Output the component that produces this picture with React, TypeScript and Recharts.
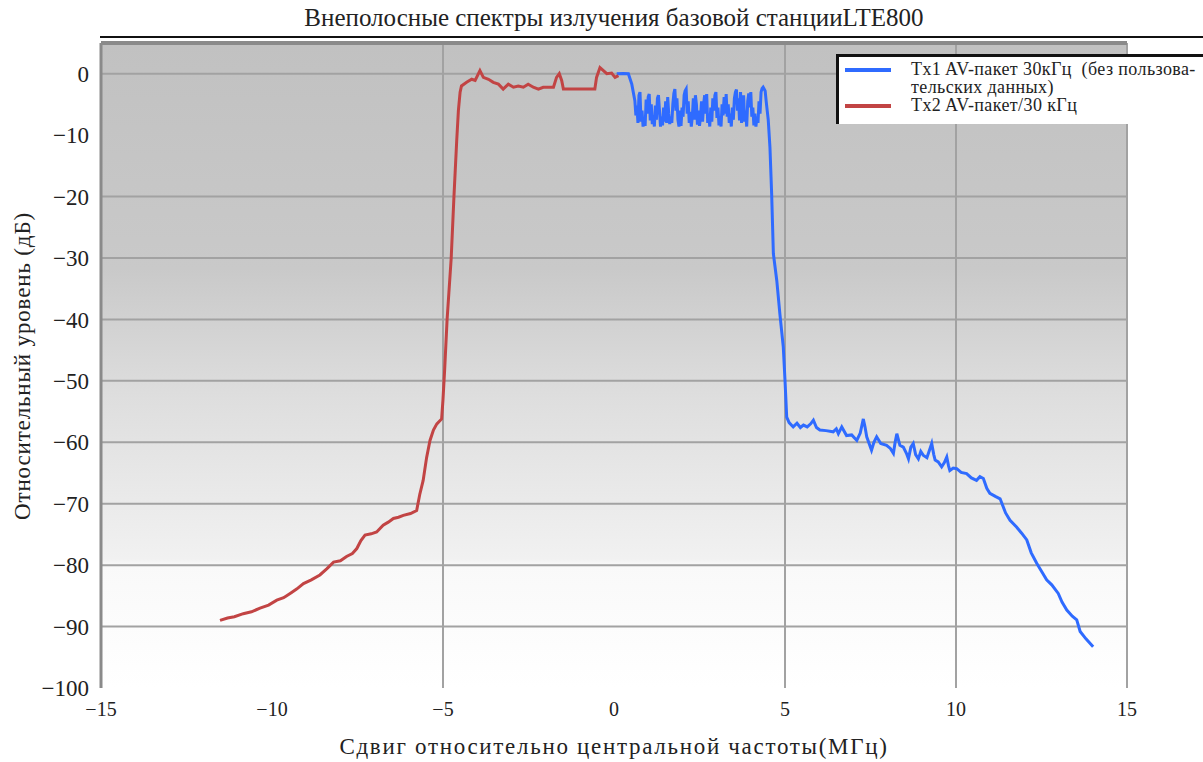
import {
  CartesianGrid,
  Line,
  LineChart,
  ReferenceLine,
  XAxis,
  YAxis,
} from "recharts"

const xTicks = [-15, -10, -5, 0, 5, 10, 15]
const yTicks = [0, -10, -20, -30, -40, -50, -60, -70, -80, -90, -100]
const gridX = [-5, 5, 10, 15]
const gridY = [0, -20, -30, -40, -50, -60, -70, -80, -90]

const tx1Name = "Tx1 AV-пакет 30кГц  (без пользовательских данных)"
const tx2Name = "Tx2 AV-пакет/30 кГц"

// [сдвиг МГц, уровень дБ]
const tx2Points: [number, number][] = [
  [-11.52, -89.0], [-11.3, -88.6], [-11.1, -88.4], [-10.84, -87.9], [-10.6, -87.6],
  [-10.35, -87.0], [-10.1, -86.5], [-9.86, -85.7], [-9.66, -85.3], [-9.47, -84.6],
  [-9.28, -83.9], [-9.08, -83.0], [-8.85, -82.4], [-8.6, -81.6], [-8.4, -80.6],
  [-8.2, -79.5], [-8.0, -79.3], [-7.82, -78.6], [-7.65, -78.1], [-7.52, -77.3],
  [-7.4, -76.0], [-7.28, -75.1], [-7.1, -74.9], [-6.94, -74.6], [-6.75, -73.5],
  [-6.6, -73.0], [-6.45, -72.4], [-6.3, -72.2], [-6.16, -71.9], [-5.95, -71.6],
  [-5.77, -71.1], [-5.68, -68.5], [-5.58, -66.2], [-5.48, -62.5], [-5.38, -59.7],
  [-5.28, -58.0], [-5.18, -57.0], [-5.04, -56.2], [-5.0, -53.0], [-4.95, -48.0],
  [-4.88, -40.0], [-4.76, -30.0], [-4.68, -20.0], [-4.6, -11.0], [-4.55, -6.0],
  [-4.5, -3.0], [-4.46, -2.0], [-4.31, -1.4], [-4.16, -0.9], [-4.06, -1.1],
  [-3.92, 0.5], [-3.82, -0.6], [-3.67, -0.9], [-3.53, -1.4], [-3.38, -1.7],
  [-3.24, -2.5], [-3.09, -1.7], [-2.94, -2.2], [-2.8, -2.0], [-2.65, -2.2],
  [-2.51, -1.7], [-2.36, -2.2], [-2.21, -2.5], [-2.07, -2.2], [-1.77, -2.2],
  [-1.68, -0.6], [-1.6, 0.0], [-1.53, -1.1], [-1.48, -2.5], [-0.99, -2.5],
  [-0.56, -2.5], [-0.51, -0.6], [-0.41, 1.0], [-0.31, 0.5], [-0.21, 0.0],
  [-0.07, 0.1], [0.03, -0.6], [0.13, -0.3],
]

const tx1Points: [number, number][] = [
  [0.08, 0.0], [0.27, 0.05], [0.42, 0.0], [0.52, -1.7], [0.61, -4.4],
  [0.64, -6.8], [0.67, -5.2], [0.7, -8.0], [0.73, -3.5], [0.76, -3.0],
  [0.79, -7.8], [0.82, -6.0], [0.85, -8.6], [0.88, -7.2], [0.91, -8.5],
  [0.94, -4.2], [0.97, -6.5], [1.0, -3.8], [1.03, -3.3], [1.06, -7.6],
  [1.09, -5.0], [1.12, -8.2], [1.15, -6.8], [1.18, -8.6], [1.21, -5.2],
  [1.24, -7.5], [1.27, -4.0], [1.3, -3.5], [1.33, -6.0], [1.36, -8.6],
  [1.39, -7.0], [1.42, -8.4], [1.45, -5.5], [1.48, -7.8], [1.51, -4.5],
  [1.54, -8.0], [1.57, -3.8], [1.6, -6.5], [1.63, -8.2], [1.66, -7.0],
  [1.69, -8.0], [1.72, -5.0], [1.75, -3.2], [1.78, -2.5], [1.81, -6.0],
  [1.84, -4.0], [1.87, -7.5], [1.9, -8.6], [1.93, -6.0], [1.96, -8.5],
  [1.99, -5.5], [2.02, -7.0], [2.05, -3.5], [2.08, -2.8], [2.11, -2.5],
  [2.14, -6.5], [2.17, -4.5], [2.2, -8.0], [2.23, -6.2], [2.26, -8.6],
  [2.29, -7.0], [2.32, -4.0], [2.35, -7.5], [2.38, -3.5], [2.41, -5.0],
  [2.44, -8.3], [2.47, -6.0], [2.5, -8.5], [2.53, -7.0], [2.56, -4.5],
  [2.59, -7.8], [2.62, -5.0], [2.65, -3.5], [2.68, -6.5], [2.71, -3.3],
  [2.74, -8.0], [2.77, -6.5], [2.8, -8.6], [2.83, -5.5], [2.86, -7.8],
  [2.89, -4.0], [2.92, -6.0], [2.95, -3.5], [2.98, -3.0], [3.01, -7.2],
  [3.04, -5.5], [3.07, -8.4], [3.1, -7.0], [3.13, -8.6], [3.16, -5.0],
  [3.19, -6.8], [3.22, -3.8], [3.25, -6.5], [3.28, -3.3], [3.31, -7.0],
  [3.34, -5.0], [3.37, -8.0], [3.4, -6.5], [3.43, -8.6], [3.46, -5.5],
  [3.49, -7.5], [3.52, -4.0], [3.55, -3.0], [3.58, -2.6], [3.61, -6.0],
  [3.64, -4.0], [3.67, -7.6], [3.7, -3.0], [3.73, -8.0], [3.76, -5.0],
  [3.79, -3.5], [3.82, -7.8], [3.85, -6.0], [3.88, -8.6], [3.91, -4.5],
  [3.94, -3.2], [3.97, -5.5], [4.0, -3.0], [4.03, -7.0], [4.06, -5.5],
  [4.09, -8.4], [4.12, -6.5], [4.15, -8.6], [4.18, -7.0], [4.21, -8.0],
  [4.24, -4.5], [4.27, -6.5], [4.3, -3.0], [4.33, -2.4], [4.36, -2.2],
  [4.39, -2.5], [4.42, -2.8], [4.45, -4.5], [4.48, -6.0], [4.51, -7.5],
  [4.56, -12.0], [4.61, -19.6], [4.66, -29.3], [4.76, -33.7], [4.85, -39.1],
  [4.95, -44.5], [5.0, -49.9], [5.05, -55.9], [5.12, -56.8], [5.24, -57.5],
  [5.35, -56.9], [5.45, -57.6], [5.54, -57.2], [5.65, -57.5], [5.75, -57.0],
  [5.83, -56.4], [5.92, -57.6], [6.02, -58.0], [6.2, -58.1], [6.41, -58.3],
  [6.5, -57.8], [6.56, -58.6], [6.66, -57.5], [6.8, -58.9], [6.95, -58.8],
  [7.1, -59.7], [7.2, -58.5], [7.29, -56.2], [7.34, -57.5], [7.39, -59.1],
  [7.53, -61.3], [7.6, -60.0], [7.68, -59.1], [7.8, -60.2], [7.97, -60.5],
  [8.08, -61.0], [8.17, -61.8], [8.22, -60.0], [8.27, -58.6], [8.36, -60.5],
  [8.46, -60.8], [8.55, -61.8], [8.61, -62.7], [8.68, -60.8], [8.75, -60.2],
  [8.82, -62.0], [8.9, -62.7], [8.97, -61.5], [9.04, -62.1], [9.15, -62.5],
  [9.29, -60.2], [9.35, -62.0], [9.39, -62.9], [9.48, -63.2], [9.58, -64.0],
  [9.66, -63.3], [9.73, -62.4], [9.78, -63.8], [9.82, -64.6], [9.92, -64.2],
  [10.02, -64.3], [10.15, -64.9], [10.31, -65.1], [10.45, -65.8], [10.6, -66.2],
  [10.7, -65.6], [10.8, -65.9], [10.9, -67.5], [10.99, -68.3], [11.15, -68.8],
  [11.29, -69.2], [11.45, -71.5], [11.58, -72.7], [11.77, -73.8], [11.92, -74.8],
  [12.07, -75.9], [12.2, -78.0], [12.36, -79.7], [12.5, -81.0], [12.65, -82.4],
  [12.8, -83.2], [12.99, -84.6], [13.1, -86.0], [13.24, -87.3], [13.4, -88.3],
  [13.53, -88.9], [13.63, -90.8], [13.8, -92.0], [14.01, -93.3],
]

const tx1Data = tx1Points.map(([f, v]) => ({ f, v }))
const tx2Data = tx2Points.map(([f, v]) => ({ f, v }))

const tx1Color = "#2f6bff"
const tx2Color = "#c24444"
const serif = '"Times New Roman", "Liberation Serif", serif'
const minus = (v: number) => String(v).replace("-", "\u2212")

function LegendBox() {
  const swatch = (c: string) => (
    <span
      style={{
        flex: "none",
        width: 46,
        height: 4,
        background: c,
        margin: "8px 0 0 6px",
      }}
    />
  )
  return (
    <div
      style={{
        position: "absolute",
        left: 836,
        top: 54,
        width: 370,
        height: 70,
        background: "#fff",
        borderLeft: "3px solid #111",
        borderTop: "3px solid #111",
        fontSize: 18,
        letterSpacing: 0.4,
        color: "#222",
        lineHeight: "18px",
        boxSizing: "border-box",
        paddingTop: 3,
      }}
    >
      <div style={{ display: "flex" }}>
        {swatch(tx1Color)}
        <span style={{ marginLeft: 20 }}>
          Tx1 AV-пакет 30кГц&nbsp; (без пользова-
          <br />
          тельских данных)
        </span>
      </div>
      <div style={{ display: "flex" }}>
        {swatch(tx2Color)}
        <span style={{ marginLeft: 20 }}>{tx2Name}</span>
      </div>
    </div>
  )
}

export default function App() {
  return (
    <div
      style={{
        position: "absolute",
        left: 0,
        top: 0,
        width: 1203,
        height: 762,
        background: "#fff",
        overflow: "hidden",
        fontFamily: serif,
      }}
    >
      <div
        style={{
          position: "absolute",
          top: 4,
          left: 0,
          width: 1228,
          textAlign: "center",
          fontSize: 25,
          color: "#222",
        }}
      >
        Внеполосные спектры излучения базовой станцииLTE800
      </div>
      <div
        style={{
          position: "absolute",
          top: 36,
          left: 100,
          width: 1103,
          borderTop: "2px solid #111",
        }}
      />
      <div
        style={{
          position: "absolute",
          left: 23,
          top: 366,
          transform: "translate(-50%, -50%) rotate(-90deg)",
          whiteSpace: "nowrap",
          fontSize: 23,
          letterSpacing: 0.85,
          color: "#222",
        }}
      >
        Относительный уровень (дБ)
      </div>
      <div
        style={{
          position: "absolute",
          top: 734,
          left: 0,
          width: 1228,
          textAlign: "center",
          fontSize: 23,
          letterSpacing: 1.7,
          color: "#222",
        }}
      >
        Сдвиг относительно центральной частоты(МГц)
      </div>
      <LineChart
        width={1203}
        height={762}
        margin={{ top: 43, right: 76, bottom: 44, left: 0 }}
        style={{ position: "absolute", left: 0, top: 0 }}
      >
        <defs>
          <linearGradient id="bg" x1="0" y1="0" x2="0" y2="1">
            <stop offset="0%" stopColor="#c1c1c1" />
            <stop offset="35%" stopColor="#c9c9c9" />
            <stop offset="55%" stopColor="#dedede" />
            <stop offset="80%" stopColor="#f1f1f1" />
            <stop offset="81%" stopColor="#f9f9f9" />
            <stop offset="100%" stopColor="#ffffff" />
          </linearGradient>
        </defs>
        <CartesianGrid
          fill="url(#bg)"
          stroke="#a2a2a2"
          strokeWidth={2}
          horizontalValues={gridY}
          verticalValues={gridX}
        />
        <XAxis
          type="number"
          dataKey="f"
          domain={[-15, 15]}
          ticks={xTicks}
          allowDataOverflow
          axisLine={false}
          tickLine={false}
          tickSize={0}
          tickMargin={14}
          height={30}
          tickFormatter={minus}
          tick={{ fontFamily: serif, fontSize: 20, fill: "#222" }}
        />
        <YAxis
          type="number"
          dataKey="v"
          domain={[-100, 5]}
          ticks={yTicks}
          allowDataOverflow
          width={101}
          axisLine={{ stroke: "#8a8a8a", strokeWidth: 3 }}
          tickLine={false}
          tickSize={0}
          tickMargin={12}
          tickFormatter={minus}
          tick={{ fontFamily: serif, fontSize: 23, fill: "#222" }}
        />
        <ReferenceLine y={5} stroke="#8a8a8a" strokeWidth={4} />
        <Line
          data={tx1Data}
          dataKey="v"
          name={tx1Name}
          type="linear"
          stroke={tx1Color}
          strokeWidth={3}
          dot={false}
          isAnimationActive={false}
        />
        <Line
          data={tx2Data}
          dataKey="v"
          name={tx2Name}
          type="linear"
          stroke={tx2Color}
          strokeWidth={3}
          dot={false}
          isAnimationActive={false}
        />
      </LineChart>
      <LegendBox />
    </div>
  )
}
